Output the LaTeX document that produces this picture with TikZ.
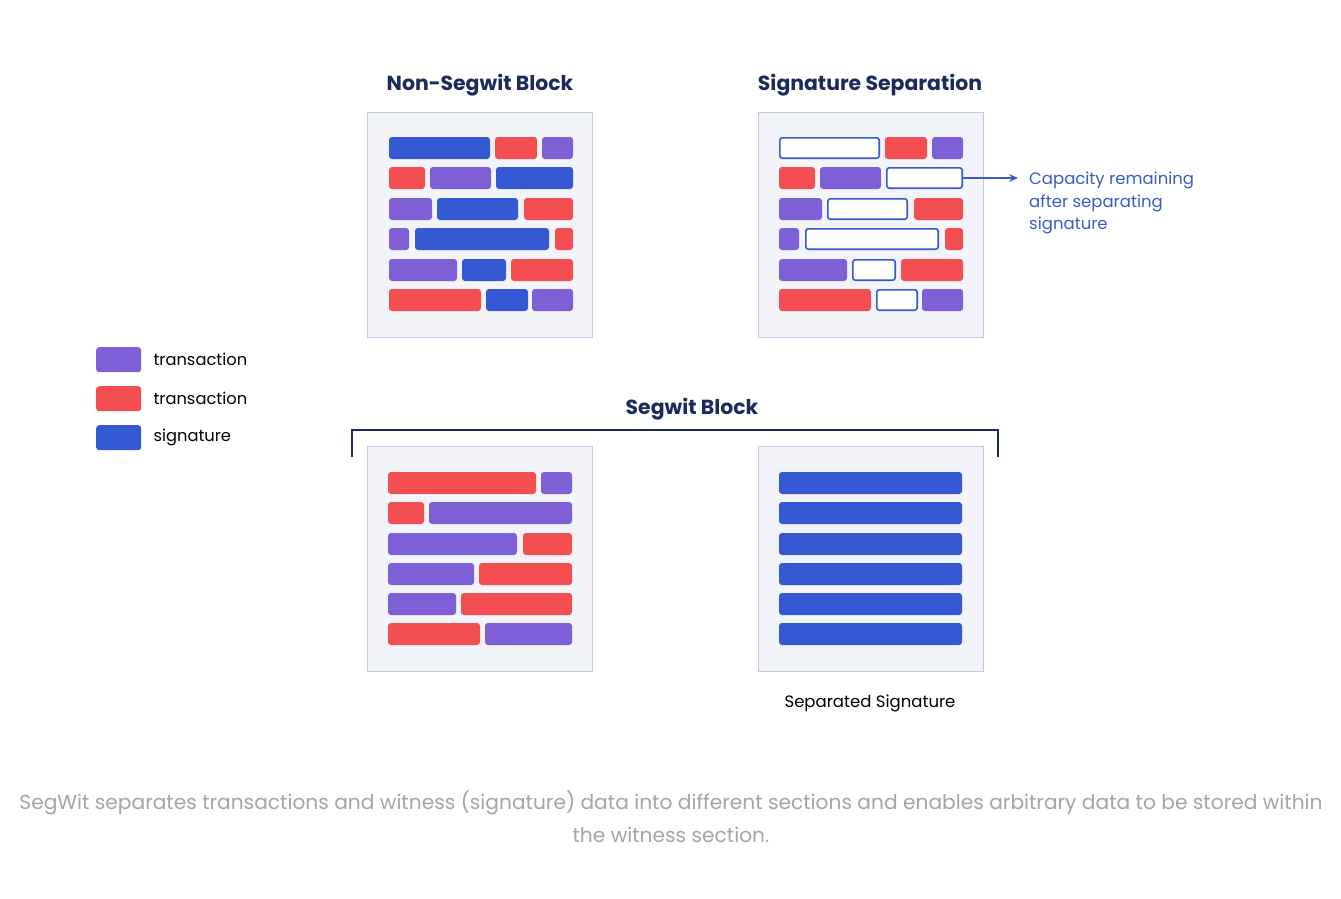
\documentclass[tikz,border=0pt]{standalone}
\usepackage{fontspec}
\setmainfont{Poppins}
\usetikzlibrary{arrows.meta}
\definecolor{cblue}{HTML}{3559D2}
\definecolor{cred}{HTML}{F34E52}
\definecolor{cpurp}{HTML}{7F5FD6}
\definecolor{panelfill}{HTML}{F3F4FA}
\definecolor{panelline}{HTML}{BFC9E6}
\definecolor{navy}{HTML}{1C2A5C}
\definecolor{capgray}{HTML}{A3A4AC}
\definecolor{notecol}{HTML}{3A5CC8}
\newcommand{\brick}[5]{\node[brick,fill=#2,minimum width={(#4-#3)*1pt}] (#1) at (#3,#5) {};}
\newcommand{\hollow}[4]{\node[hollowbrick,minimum width={(#3-#2)*1pt-1.6pt}] (#1) at (#2+0.8,#4+0.8) {};}
\begin{document}
\begin{tikzpicture}[x=1pt,y=-1pt,
  brick/.style={rectangle,rounded corners=3pt,inner sep=0pt,outer sep=0pt,minimum height=22pt,anchor=north west,draw=none},
  hollowbrick/.style={rectangle,rounded corners=2.5pt,inner sep=0pt,outer sep=0pt,minimum height=20.4pt,anchor=north west,draw=cblue,line width=1.6pt,fill=white},
  panel/.style={rectangle,draw=panelline,fill=panelfill,line width=0.8pt,minimum width=225pt,minimum height=225pt,anchor=north west,inner sep=0pt},
  title/.style={font=\fontsize{20.4}{24}\selectfont\bfseries,text=navy},
  legtext/.style={font=\fontsize{16.3}{20}\selectfont,text=black,anchor=west},
  legsq/.style={rectangle,rounded corners=3pt,minimum width=45pt,minimum height=25pt,inner sep=0pt,anchor=north west}]
\useasboundingbox (0,0) rectangle (1341,898);
\fill[white] (0,0) rectangle (1341,898);
% titles
\node[title] (t1) at (480,85) {Non-Segwit Block};
\node[title] (t2) at (870,85) {Signature Separation};
\node[title] (t3) at (692,409) {Segwit Block};
% panels
\node[panel] (p1) at (367,112) {};
\node[panel] (p2) at (758,112) {};
\node[panel] (p3) at (367,446) {};
\node[panel] (p4) at (758,446) {};
% panel 1
\brick{a11}{cblue}{389}{490}{137}\brick{a12}{cred}{495}{537}{137}\brick{a13}{cpurp}{542}{573}{137}
\brick{a21}{cred}{389}{425}{167}\brick{a22}{cpurp}{430}{491}{167}\brick{a23}{cblue}{496}{573}{167}
\brick{a31}{cpurp}{389}{432}{198}\brick{a32}{cblue}{437}{518}{198}\brick{a33}{cred}{524}{573}{198}
\brick{a41}{cpurp}{389}{409}{228}\brick{a42}{cblue}{415}{549}{228}\brick{a43}{cred}{555}{573}{228}
\brick{a51}{cpurp}{389}{457}{259}\brick{a52}{cblue}{462}{506}{259}\brick{a53}{cred}{511}{573}{259}
\brick{a61}{cred}{389}{481}{289}\brick{a62}{cblue}{486}{528}{289}\brick{a63}{cpurp}{532}{573}{289}
% panel 2
\hollow{b11}{779}{880}{137}\brick{b12}{cred}{885}{927}{137}\brick{b13}{cpurp}{932}{963}{137}
\brick{b21}{cred}{779}{815}{167}\brick{b22}{cpurp}{820}{881}{167}\hollow{b23}{886}{963}{167}
\brick{b31}{cpurp}{779}{822}{198}\hollow{b32}{827}{908}{198}\brick{b33}{cred}{914}{963}{198}
\brick{b41}{cpurp}{779}{799}{228}\hollow{b42}{805}{939}{228}\brick{b43}{cred}{945}{963}{228}
\brick{b51}{cpurp}{779}{847}{259}\hollow{b52}{852}{896}{259}\brick{b53}{cred}{901}{963}{259}
\brick{b61}{cred}{779}{871}{289}\hollow{b62}{876}{918}{289}\brick{b63}{cpurp}{922}{963}{289}
% panel 3
\brick{c11}{cred}{388}{536}{472}\brick{c12}{cpurp}{541}{572}{472}
\brick{c21}{cred}{388}{424}{502}\brick{c22}{cpurp}{429}{572}{502}
\brick{c31}{cpurp}{388}{517}{533}\brick{c32}{cred}{523}{572}{533}
\brick{c41}{cpurp}{388}{474}{563}\brick{c42}{cred}{479}{572}{563}
\brick{c51}{cpurp}{388}{456}{593}\brick{c52}{cred}{461}{572}{593}
\brick{c61}{cred}{388}{480}{623}\brick{c62}{cpurp}{485}{572}{623}
% panel 4
\brick{d1}{cblue}{779}{962}{472}
\brick{d2}{cblue}{779}{962}{502}
\brick{d3}{cblue}{779}{962}{533}
\brick{d4}{cblue}{779}{962}{563}
\brick{d5}{cblue}{779}{962}{593}
\brick{d6}{cblue}{779}{962}{623}
% annotation
\node[anchor=north west,align=left,inner sep=0pt,text=notecol,font=\fontsize{16.5}{22.5}\selectfont] (note) at (1029,172) {Capacity remaining\\after separating\\signature};
\coordinate (arrend) at (1018,178);
\draw[notecol,line width=1.2pt,-{Stealth[length=9pt,width=8pt]}] (b23.east) -- (arrend);
% legend
\node[legsq,fill=cpurp] (l1) at (96,347) {};
\node[legsq,fill=cred] (l2) at (96,386) {};
\node[legsq,fill=cblue] (l3) at (96,425) {};
\node[legtext] (lt1) at (150,359) {transaction};
\node[legtext] (lt2) at (150,398) {transaction};
\node[legtext] (lt3) at (150,437) {signature};
% bracket
\coordinate (bl) at (352,457);
\coordinate (br) at (998,457);
\draw[navy,line width=2pt,line join=miter] (bl) -- (352,430) -- (998,430) -- (br);
% separated signature label
\node[font=\fontsize{16.5}{20}\selectfont,text=black] (sep) at (870,703) {Separated Signature};
% caption
\node[align=center,text=capgray,font=\fontsize{20.2}{33}\selectfont] (cap) at (671,817) {SegWit separates transactions and witness (signature) data into different sections and enables arbitrary data to be stored within\\the witness section.};
\end{tikzpicture}
\end{document}
